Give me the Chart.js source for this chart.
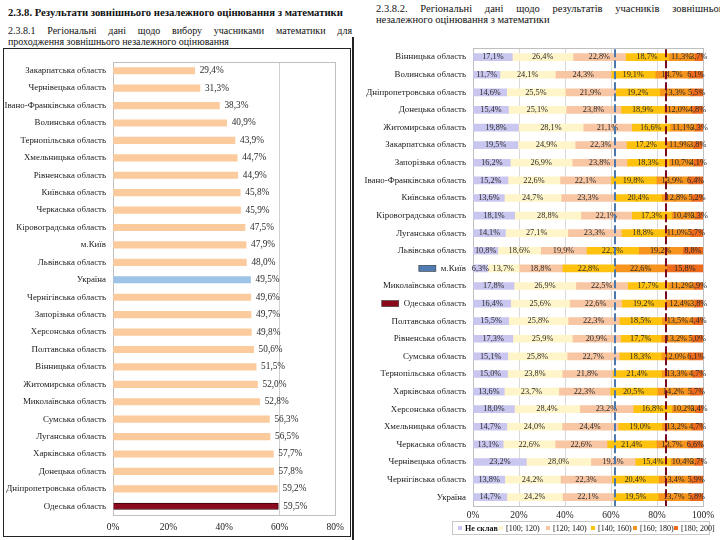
<!DOCTYPE html>
<html><head><meta charset="utf-8">
<script src="https://cdn.jsdelivr.net/npm/chart.js@4"></script>
<style>
html,body{margin:0;padding:0;}
body{width:720px;height:540px;overflow:hidden;background:#fff;position:relative;font-family:"Liberation Serif","DejaVu Serif",serif;color:#111;}
.abs{position:absolute;}
#h1{left:8px;top:6px;font-weight:bold;font-size:10.7px;white-space:nowrap;}
.jl{text-align:justify;text-align-last:justify;white-space:nowrap;}
#p1a{left:8px;top:25px;width:344px;font-size:10px;line-height:11px;}
#p1b{left:8px;top:36px;font-size:10px;line-height:11px;white-space:nowrap;}
#p2a{left:376px;top:3px;width:352px;font-size:10.5px;line-height:11px;}
#p2b{left:376px;top:14px;font-size:10.5px;line-height:11px;white-space:nowrap;}
#leftFrame{left:3px;top:48px;width:348px;height:489px;border:1.5px solid #222;box-sizing:border-box;}
#rightFrameL{left:352px;top:37px;width:1.5px;height:503px;background:#222;}
#legend{left:452px;top:521px;width:258px;height:14px;border:1px solid #c8c8c8;box-sizing:border-box;font-size:8px;}
.li{position:absolute;top:1px;white-space:nowrap;line-height:11px;}
.sw{display:inline-block;width:4px;height:4px;margin-right:3px;vertical-align:middle;position:relative;top:-1px;}
#c1{left:3px;top:48px;}
#c2{left:353px;top:36px;}
</style></head><body>
<div id="h1" class="abs">2.3.8. Результати зовнішнього незалежного оцінювання з математики</div>
<div id="p1a" class="abs jl">2.3.8.1 Регіональні дані щодо вибору учасниками математики для</div>
<div id="p1b" class="abs">проходження зовнішнього незалежного оцінювання</div>
<div id="p2a" class="abs jl">2.3.8.2. Регіональні дані щодо результатів учасників зовнішнього</div>
<div id="p2b" class="abs">незалежного оцінювання з математики</div>
<div id="leftFrame" class="abs"></div>
<div id="rightFrameL" class="abs"></div>
<canvas id="c1" class="abs" width="348" height="488"></canvas>
<canvas id="c2" class="abs" width="367" height="490"></canvas>
<div id="legend" class="abs"></div>
<script>
// ---------- Left chart data ----------
const leftCategories = ['Закарпатська область','Чернівецька область','Івано-Франківська область','Волинська область','Тернопільська область','Хмельницька область','Рівненська область','Київська область','Черкаська область','Кіровоградська область','м.Київ','Львівська область','Україна','Чернігівська область','Запорізька область','Херсонська область','Полтавська область','Вінницька область','Житомирська область','Миколаївська область','Сумська область','Луганська область','Харківська область','Донецька область','Дніпропетровська область','Одеська область'];
const leftValues = [29.4,31.3,38.3,40.9,43.9,44.7,44.9,45.8,45.9,47.5,47.9,48.0,49.5,49.6,49.7,49.8,50.6,51.5,52.0,52.8,56.3,56.5,57.7,57.8,59.2,59.5];
const leftTicks = [0,20,40,60,80];

// ---------- Right chart data ----------
const rightCategories = ['Вінницька область','Волинська область','Дніпропетровська область','Донецька область','Житомирська область','Закарпатська область','Запорізька область','Івано-Франківська область','Київська область','Кіровоградська область','Луганська область','Львівська область','м.Київ','Миколаївська область','Одеська область','Полтавська область','Рівненська область','Сумська область','Тернопільська область','Харківська область','Херсонська область','Хмельницька область','Черкаська область','Чернівецька область','Чернігівська область','Україна'];
const seriesNames = ['Не склав','[100; 120)','[120; 140)','[140; 160)','[160; 180)','[180; 200]'];
const neSklav  = [17.1,11.7,14.6,15.4,19.8,19.5,16.2,15.2,13.6,18.1,14.1,10.8,6.3,17.8,16.4,15.5,17.3,15.1,15.0,13.6,18.0,14.7,13.1,23.2,13.8,14.7];
const r100_120 = [26.4,24.1,25.5,25.1,28.1,24.9,26.9,22.6,24.7,28.8,27.1,18.6,13.7,26.9,25.6,25.8,25.9,25.8,23.8,23.7,28.4,24.0,22.6,28.0,24.2,24.2];
const r120_140 = [22.8,24.3,21.9,23.8,21.1,22.3,23.8,22.1,23.3,22.1,23.3,19.9,18.8,22.5,22.6,22.3,20.9,22.7,21.8,22.3,23.2,24.4,22.6,19.3,22.3,22.1];
const r140_160 = [18.7,19.1,19.2,18.9,16.6,17.2,18.3,19.8,20.4,17.3,18.8,22.7,22.8,17.7,19.2,18.5,17.7,18.3,21.4,20.5,16.8,19.0,21.4,15.4,20.4,19.5];
const r160_180 = [11.3,14.7,13.3,12.0,11.1,11.9,10.7,13.9,12.8,10.4,11.0,19.2,22.6,11.2,12.4,13.5,13.2,12.0,13.3,14.2,10.2,13.2,13.7,10.4,13.4,13.7];
const r180_200 = [3.7,6.1,5.5,4.8,3.3,3.8,4.1,6.4,5.2,3.3,5.7,8.8,15.8,3.9,3.8,4.4,5.0,6.1,4.7,5.7,3.4,4.7,6.6,3.7,5.9,5.8];
const rightTicks = [0,20,40,60,80,100];
const markedRegions = ['м.Київ','Одеська область'];

// ---------- styles ----------
const FONT = '"Liberation Serif", "DejaVu Serif", serif';
Chart.defaults.font.family = FONT;
Chart.defaults.color = '#1a1a1a';
const LABEL_SIZE = 8.9;
const seriesColors = ['#C9C6F0','#FFF5C9','#F8C6A3','#FFC20F','#F7941D','#EE6A1C'];
const markerColors = {'м.Київ':'#4E7CB3','Одеська область':'#8A0A1C'};
const fmt = v => v.toFixed(1).replace('.', ',') + '%';

const framePlugin = {
  id:'frame',
  beforeDatasetsDraw(chart){
    const a = chart.chartArea, c = chart.ctx;
    c.save(); c.strokeStyle = '#BFBFBF'; c.lineWidth = 1;
    c.strokeRect(Math.round(a.left)+0.5, Math.round(a.top)+0.5, Math.round(a.right-a.left), Math.round(a.bottom-a.top));
    c.restore();
  }
};

// ---------- Left chart ----------
const leftColors = leftCategories.map(c => c==='Україна' ? '#9DC3E6' : (c==='Одеська область' ? '#8B0A1E' : '#FCCB9D'));
const endLabels = {
  id:'endLabels',
  afterDatasetsDraw(chart){
    const c = chart.ctx, meta = chart.getDatasetMeta(0);
    c.save(); c.font = '9.3px ' + FONT; c.fillStyle = '#2a2a2a'; c.textAlign='left'; c.textBaseline='middle';
    meta.data.forEach((el,i)=>{ c.fillText(fmt(leftValues[i]), el.x + 5, el.y); });
    c.restore();
  }
};
new Chart(document.getElementById('c1'), {
  type:'bar',
  data:{labels:leftCategories, datasets:[{data:leftValues, backgroundColor:leftColors,
    borderColor:leftCategories.map(c=>c==='Одеська область'?'#3a0008':'transparent'), borderWidth:leftCategories.map(c=>c==='Одеська область'?1:0),
    barThickness:6.5}]},
  options:{
    indexAxis:'y', responsive:false, animation:false, devicePixelRatio:1,
    layout:{padding:{top:14,right:12,left:0,bottom:0}},
    plugins:{legend:{display:false}, tooltip:{enabled:false}},
    scales:{
      x:{min:0,max:80, afterBuildTicks:s=>{s.ticks = leftTicks.map(v=>({value:v}));},
        ticks:{callback:v=>v+'%', font:{size:9.5}, padding:7},
        grid:{drawTicks:false, color:ctx=> (ctx.tick && ctx.tick.value===60) ? '#D0D0D0' : 'transparent'},
        border:{display:false}, afterFit:s=>{s.height=21;}},
      y:{ticks:{font:{size:LABEL_SIZE}, padding:7, autoSkip:false}, grid:{display:false, drawTicks:false}, border:{display:false},
        afterFit:s=>{s.width=110;}}
    }
  },
  plugins:[framePlugin, endLabels]
});

// ---------- Right chart ----------
const rightSeries = [neSklav, r100_120, r120_140, r140_160, r160_180, r180_200];
const cum = (idx, upTo) => rightSeries.slice(0, upTo+1).reduce((s,arr)=>s+arr[idx],0);
const refLines = [
  {value: cum(rightCategories.indexOf('м.Київ'),3), color:'#4A78AE'},
  {value: cum(rightCategories.indexOf('Одеська область'),3), color:'#7A0A1E'}
];
const segLabels = {
  id:'segLabels',
  afterDatasetsDraw(chart){
    const c = chart.ctx;
    c.save(); c.font = '8.3px ' + FONT; c.fillStyle = '#2a2a2a'; c.textAlign='center'; c.textBaseline='middle';
    chart.data.datasets.forEach((ds,di)=>{
      chart.getDatasetMeta(di).data.forEach((el,i)=>{
        c.fillText(fmt(ds.data[i]), (el.x + el.base)/2, el.y);
      });
    });
    const xs = chart.scales.x, a = chart.chartArea;
    refLines.forEach(r=>{
      const x = Math.round(xs.getPixelForValue(r.value));
      c.strokeStyle = r.color; c.lineWidth = 2; c.setLineDash([8,3]);
      c.beginPath(); c.moveTo(x, a.top+1); c.lineTo(x, a.bottom); c.stroke();
    });
    c.setLineDash([]);
    const ys = chart.scales.y;
    c.font = LABEL_SIZE + 'px ' + FONT;
    markedRegions.forEach(name=>{
      const i = rightCategories.indexOf(name);
      const y = ys.getPixelForValue(i);
      const w = c.measureText(name).width;
      const right = a.left - 7 - w - 5;
      c.fillStyle = markerColors[name]; c.fillRect(right-17, y-3, 17, 6);
      c.strokeStyle = '#333'; c.lineWidth = 0.6; c.strokeRect(right-17, y-3, 17, 6);
    });
    c.restore();
  }
};
new Chart(document.getElementById('c2'), {
  type:'bar',
  data:{labels:rightCategories, datasets: rightSeries.map((arr,k)=>({label:seriesNames[k], data:arr, backgroundColor:seriesColors[k], borderWidth:0, barThickness:7}))},
  options:{
    indexAxis:'y', responsive:false, animation:false, devicePixelRatio:1,
    layout:{padding:{top:7,right:17,left:0,bottom:0}},
    plugins:{legend:{display:false}, tooltip:{enabled:false}},
    scales:{
      x:{stacked:true, min:0, max:100, afterBuildTicks:s=>{s.ticks = rightTicks.map(v=>({value:v}));},
        ticks:{callback:v=>v+'%', font:{size:9.5}, padding:4},
        grid:{drawTicks:false, color:'#D9D9D9'}, border:{display:false}, afterFit:s=>{s.height=20;}},
      y:{stacked:true, ticks:{font:{size:LABEL_SIZE}, padding:7, autoSkip:false}, grid:{display:false, drawTicks:false}, border:{display:false},
        afterFit:s=>{s.width=120;}}
    }
  },
  plugins:[framePlugin, segLabels]
});

// ---------- Legend ----------
const legendPos = [5, 46, 93, 138, 180, 221];
const lg = document.getElementById('legend');
seriesNames.forEach((n,k)=>{
  const d = document.createElement('div'); d.className='li'; d.style.left = legendPos[k]+'px';
  if(k===0) d.style.fontWeight='bold';
  d.innerHTML = '<span class="sw" style="background:'+seriesColors[k]+'"></span>';
  d.appendChild(document.createTextNode(n));
  lg.appendChild(d);
});
</script>
</body></html>
